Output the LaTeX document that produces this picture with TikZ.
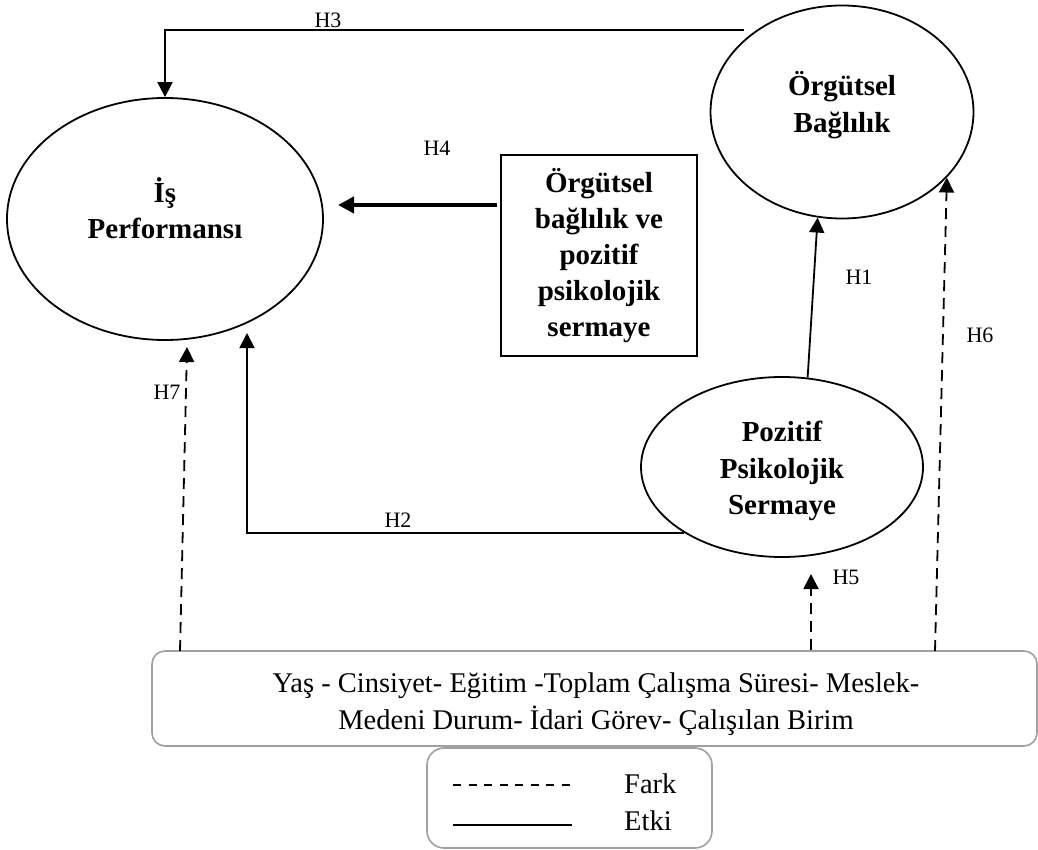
\documentclass[tikz,border=0pt]{standalone}
\usepackage{fontspec}
\setmainfont{Liberation Serif}
\usetikzlibrary{shapes.geometric,arrows.meta}
\definecolor{gri}{RGB}{160,160,160}
\tikzset{
  oval/.style={ellipse,draw,line width=1.8pt,inner sep=0pt},
  kalinyazi/.style={inner sep=0pt,align=center,font=\fontsize{29}{36.5}\selectfont\bfseries},
  kutu/.style={rectangle,draw,line width=1.8pt,inner sep=0pt,align=center,font=\fontsize{29}{36}\selectfont\bfseries},
  grikutu/.style={rectangle,draw=gri,line width=1.6pt,rounded corners=13pt,inner sep=0pt},
  yazi/.style={inner sep=0pt,align=center,font=\fontsize{28.5}{37}\selectfont},
  etiket/.style={inner sep=0pt,font=\fontsize{22}{26}\selectfont},
  ok/.style={line width=1.8pt,-{Triangle[length=15pt,width=15pt]}},
  kalin/.style={line width=4pt,-{Triangle[length=16pt,width=16pt]}},
  kesik/.style={line width=1.8pt,dash pattern=on 11pt off 7pt,-{Triangle[length=15pt,width=15pt]}}
}
\begin{document}
\begin{tikzpicture}[x=1pt,y=-1pt]
	\useasboundingbox (0,0) rectangle (1038,850);
	% 椭圆,文字单独放
	\node[oval,minimum width=316,minimum height=242] (isp) at (165,219) {};
	\node[kalinyazi] (ispt) at (165,208) {İş\\Performansı};
	\node[oval,minimum width=263,minimum height=213] (ob) at (842,112) {};
	\node[kalinyazi] (obt) at (842,105) {Örgütsel\\Bağlılık};
	\node[oval,minimum width=282,minimum height=180] (pps) at (782,467) {};
	\node[kalinyazi] (ppst) at (782,471) {Pozitif\\Psikolojik\\Sermaye};
	\node[kutu,minimum width=196,minimum height=201] (ara) at (599,255.5) {Örgütsel\\bağlılık ve\\pozitif\\psikolojik\\sermaye};
	% 下面的灰框
	\node[grikutu,minimum width=885,minimum height=95] (demo) at (594.5,698.5) {};
	\node[yazi] (demot) at (596,704) {Yaş - Cinsiyet- Eğitim -Toplam Çalışma Süresi- Meslek-\\Medeni Durum- İdari Görev- Çalışılan Birim};
	% 图例
	\node[grikutu,rounded corners=17pt,minimum width=285,minimum height=100] (leg) at (569.5,798) {};
	\node[yazi,anchor=west] (fark) at (624,784) {Fark};
	\node[yazi,anchor=west] (etki) at (624,821) {Etki};
	\draw[line width=2pt,dash pattern=on 8pt off 7.5pt] (453,785) -- (572,785);
	\draw[line width=2pt] (453,825) -- (572,825);
	% 实线箭头
	\coordinate (h3s) at (744,30);
	\draw[ok] (h3s) -| (isp.north);
	\draw[ok] (pps.74) -- (ob.257);
	\coordinate (h2e) at (247,333);
	\draw[ok] (pps.214) -| (h2e);
	\coordinate (h4s) at (497,205);
	\coordinate (h4e) at (338,205);
	\draw[kalin] (h4s) -- (h4e);
	% 虚线箭头,从下面的框出发
	\coordinate (h5e) at (811,574);
	\draw[kesik] (demo.north -| h5e) -- (h5e);
	\coordinate (h6s) at (935,651);
	\draw[kesik] (h6s) -- (ob.-32);
	\coordinate (h7s) at (180,651);
	\coordinate (h7e) at (187,347);
	\draw[kesik] (h7s) -- (h7e);
	% 标签
	\node[etiket] (l1) at (859,277) {H1};
	\node[etiket] (l2) at (398,520) {H2};
	\node[etiket] (l3) at (328,20) {H3};
	\node[etiket] (l4) at (437,148) {H4};
	\node[etiket] (l5) at (846,577) {H5};
	\node[etiket] (l6) at (980,335) {H6};
	\node[etiket] (l7) at (167,392) {H7};
\end{tikzpicture}
\end{document}
